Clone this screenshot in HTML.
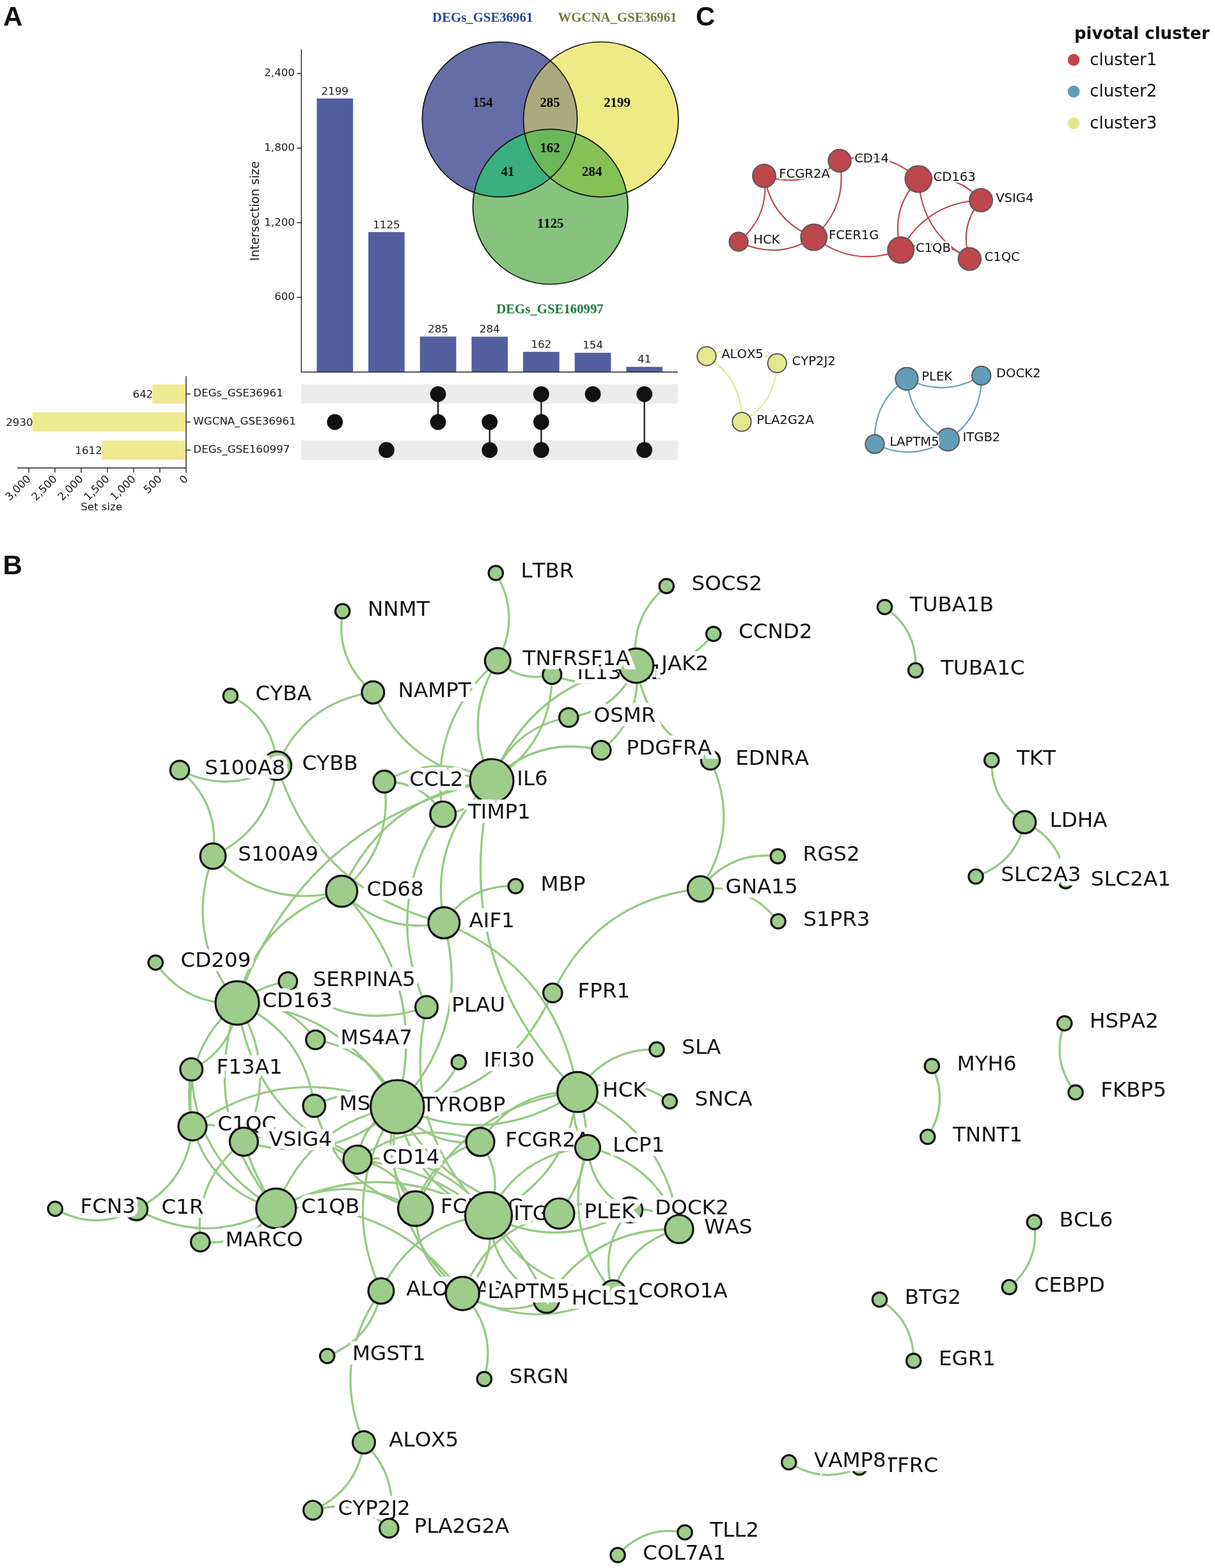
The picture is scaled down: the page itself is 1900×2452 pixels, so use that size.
<!DOCTYPE html>
<html lang="en"><head><meta charset="utf-8"><title>Figure: UpSet, Venn, PPI network and pivotal clusters</title>
<style>html,body{margin:0;padding:0;background:#fff}body{width:1900px;height:2452px;overflow:hidden}svg{display:block}text{font-kerning:none}.dj{font-family:"DejaVu Sans","Liberation Sans",sans-serif}.pl{font-family:"Liberation Sans","DejaVu Sans",sans-serif;font-weight:700;font-size:42px;fill:#111}.vn{font-family:"Liberation Serif","DejaVu Serif",serif;font-weight:700;font-size:20.8px}.t{font-size:16.7px;fill:#1a1a1a}.bl{font-size:32.5px;fill:#111;stroke:#fff;stroke-width:13px;stroke-linejoin:miter;stroke-miterlimit:3;paint-order:stroke fill}.cl{font-size:19.6px;fill:#111;stroke:#fff;stroke-width:5px;stroke-linejoin:miter;stroke-miterlimit:3;paint-order:stroke fill}.be{fill:none;stroke:#97ca85;stroke-width:3.3px}.bn{fill:#9dcc8b;stroke:#111;stroke-width:3.2px}.ce{fill:none;stroke-width:2.1px}.cn{stroke:#5a5a5a;stroke-width:2px}</style></head><body>
<svg width="1900" height="2452" viewBox="0 0 1900 2452" class="dj">
<rect width="1900" height="2452" fill="#fff"/>
<text class="pl" x="5" y="39.8">A</text>
<text class="pl" x="4.5" y="897.5">B</text>
<text class="pl" x="1088" y="39.8">C</text>
<g id="upset">
<rect x="471.3" y="601" width="588.7" height="30.3" fill="#ebeceb"/>
<rect x="471.3" y="688.7" width="588.7" height="30.3" fill="#ebeceb"/>
<rect x="495.4" y="154" width="56.7" height="427.7" fill="#525f9e"/>
<text class="t" x="523.7" y="147.7" text-anchor="middle">2199</text>
<rect x="576" y="362.9" width="56.7" height="218.8" fill="#525f9e"/>
<text class="t" x="604.4" y="356.6" text-anchor="middle">1125</text>
<rect x="656.7" y="526.3" width="56.7" height="55.4" fill="#525f9e"/>
<text class="t" x="685" y="520" text-anchor="middle">285</text>
<rect x="737.4" y="526.5" width="56.7" height="55.2" fill="#525f9e"/>
<text class="t" x="765.7" y="520.2" text-anchor="middle">284</text>
<rect x="818" y="550.2" width="56.7" height="31.5" fill="#525f9e"/>
<text class="t" x="846.4" y="543.9" text-anchor="middle">162</text>
<rect x="898.7" y="551.7" width="56.7" height="30" fill="#525f9e"/>
<text class="t" x="927.1" y="545.4" text-anchor="middle">154</text>
<rect x="979.4" y="573.7" width="56.7" height="8" fill="#525f9e"/>
<text class="t" x="1007.7" y="567.4" text-anchor="middle">41</text>
<path d="M471.3 77.3V581.7H1060" fill="none" stroke="#222" stroke-width="1.4"/>
<path d="M464.3 465H471.3" stroke="#222" stroke-width="1.4"/>
<text class="t" x="461" y="469.2" text-anchor="end">600</text>
<path d="M464.3 348.3H471.3" stroke="#222" stroke-width="1.4"/>
<text class="t" x="461" y="352.5" text-anchor="end">1,200</text>
<path d="M464.3 231.6H471.3" stroke="#222" stroke-width="1.4"/>
<text class="t" x="461" y="235.8" text-anchor="end">1,800</text>
<path d="M464.3 114.9H471.3" stroke="#222" stroke-width="1.4"/>
<text class="t" x="461" y="119.1" text-anchor="end">2,400</text>
<text x="405" y="330" font-size="19px" fill="#1a1a1a" text-anchor="middle" transform="rotate(-90 405 330)">Intersection size</text>
<circle cx="523.7" cy="660" r="12.4" fill="#111"/>
<circle cx="604.4" cy="703.7" r="12.4" fill="#111"/>
<path d="M685 616.3V660" stroke="#111" stroke-width="2.2"/>
<circle cx="685" cy="616.3" r="12.4" fill="#111"/>
<circle cx="685" cy="660" r="12.4" fill="#111"/>
<path d="M765.7 660V703.7" stroke="#111" stroke-width="2.2"/>
<circle cx="765.7" cy="660" r="12.4" fill="#111"/>
<circle cx="765.7" cy="703.7" r="12.4" fill="#111"/>
<path d="M846.4 616.3V703.7" stroke="#111" stroke-width="2.2"/>
<circle cx="846.4" cy="616.3" r="12.4" fill="#111"/>
<circle cx="846.4" cy="660" r="12.4" fill="#111"/>
<circle cx="846.4" cy="703.7" r="12.4" fill="#111"/>
<circle cx="927.1" cy="616.3" r="12.4" fill="#111"/>
<path d="M1007.7 616.3V703.7" stroke="#111" stroke-width="2.2"/>
<circle cx="1007.7" cy="616.3" r="12.4" fill="#111"/>
<circle cx="1007.7" cy="703.7" r="12.4" fill="#111"/>
<rect x="238.4" y="601" width="52.6" height="30.3" fill="#efeb92"/>
<text class="t" x="239.4" y="622.4" text-anchor="end">642</text>
<path d="M291 616.1H298" stroke="#222" stroke-width="1.4"/>
<text class="t" x="302.3" y="620.4">DEGs_GSE36961</text>
<rect x="50.7" y="644.7" width="240.3" height="30.3" fill="#efeb92"/>
<text class="t" x="51.7" y="666.1" text-anchor="end">2930</text>
<path d="M291 659.9H298" stroke="#222" stroke-width="1.4"/>
<text class="t" x="302.3" y="664.1">WGCNA_GSE36961</text>
<rect x="158.8" y="688.7" width="132.2" height="30.3" fill="#efeb92"/>
<text class="t" x="159.8" y="710.1" text-anchor="end">1612</text>
<path d="M291 703.9H298" stroke="#222" stroke-width="1.4"/>
<text class="t" x="302.3" y="708.1">DEGs_GSE160997</text>
<path d="M291 588.3V731.7H27.3" fill="none" stroke="#222" stroke-width="1.4"/>
<path d="M291 731.7V739" stroke="#222" stroke-width="1.4"/>
<text class="t" x="295" y="750" text-anchor="end" transform="rotate(-45 295 750)">0</text>
<path d="M250 731.7V739" stroke="#222" stroke-width="1.4"/>
<text class="t" x="254" y="750" text-anchor="end" transform="rotate(-45 254 750)">500</text>
<path d="M209 731.7V739" stroke="#222" stroke-width="1.4"/>
<text class="t" x="213" y="750" text-anchor="end" transform="rotate(-45 213 750)">1,000</text>
<path d="M168 731.7V739" stroke="#222" stroke-width="1.4"/>
<text class="t" x="172" y="750" text-anchor="end" transform="rotate(-45 172 750)">1,500</text>
<path d="M127 731.7V739" stroke="#222" stroke-width="1.4"/>
<text class="t" x="131" y="750" text-anchor="end" transform="rotate(-45 131 750)">2,000</text>
<path d="M86 731.7V739" stroke="#222" stroke-width="1.4"/>
<text class="t" x="90" y="750" text-anchor="end" transform="rotate(-45 90 750)">2,500</text>
<path d="M45 731.7V739" stroke="#222" stroke-width="1.4"/>
<text class="t" x="49" y="750" text-anchor="end" transform="rotate(-45 49 750)">3,000</text>
<text class="t" x="158.7" y="797.5" text-anchor="middle">Set size</text>
</g>
<g id="venn">
<defs><clipPath id="cb"><circle cx="781.5" cy="186.7" r="121.2"/></clipPath><clipPath id="cy"><circle cx="939.7" cy="186.7" r="121.2"/></clipPath></defs>
<circle cx="781.5" cy="186.7" r="121.2" fill="#656da6" />
<circle cx="939.7" cy="186.7" r="121.2" fill="#eeeb86" />
<circle cx="860.7" cy="323.3" r="121.2" fill="#86c47e" />
<circle cx="939.7" cy="186.7" r="121.2" fill="#a9ab7d" clip-path="url(#cb)"/>
<circle cx="860.7" cy="323.3" r="121.2" fill="#3bae7d" clip-path="url(#cb)"/>
<circle cx="860.7" cy="323.3" r="121.2" fill="#85c155" clip-path="url(#cy)"/>
<g clip-path="url(#cb)"><circle cx="860.7" cy="323.3" r="121.2" fill="#6bb85c" clip-path="url(#cy)"/></g>
<circle cx="781.5" cy="186.7" r="121.2" fill="none" stroke="#111" stroke-width="1.7"/>
<circle cx="939.7" cy="186.7" r="121.2" fill="none" stroke="#111" stroke-width="1.7"/>
<circle cx="860.7" cy="323.3" r="121.2" fill="none" stroke="#111" stroke-width="1.7"/>
<text class="vn" x="755" y="167" text-anchor="middle" fill="#000">154</text>
<text class="vn" x="860" y="167" text-anchor="middle" fill="#000">285</text>
<text class="vn" x="965" y="167" text-anchor="middle" fill="#000">2199</text>
<text class="vn" x="860" y="237.5" text-anchor="middle" fill="#000">162</text>
<text class="vn" x="794" y="274.5" text-anchor="middle" fill="#000">41</text>
<text class="vn" x="925.7" y="274.5" text-anchor="middle" fill="#000">284</text>
<text class="vn" x="860.7" y="356" text-anchor="middle" fill="#000">1125</text>
<text class="vn" x="754.7" y="34.3" text-anchor="middle" fill="#1f4690">DEGs_GSE36961</text>
<text class="vn" x="965.5" y="34.3" text-anchor="middle" fill="#75763a">WGCNA_GSE36961</text>
<text class="vn" x="860" y="489.7" text-anchor="middle" fill="#1f7a3c">DEGs_GSE160997</text>
</g>
<g id="clusters">
<path class="ce" d="M1195 275Q1260.6 296.2 1313 251.4" stroke="#be464d"/>
<path class="ce" d="M1195 275Q1203.8 337.7 1155 378" stroke="#be464d"/>
<path class="ce" d="M1195 275Q1207 344.8 1272.7 371" stroke="#be464d"/>
<path class="ce" d="M1313 251.4Q1326.3 322.5 1272.7 371" stroke="#be464d"/>
<path class="ce" d="M1155 378Q1215.8 407.5 1272.7 371" stroke="#be464d"/>
<path class="ce" d="M1313 251.4Q1382.7 231.2 1436.3 280" stroke="#be464d"/>
<path class="ce" d="M1436.3 280Q1494.4 269.1 1534 313" stroke="#be464d"/>
<path class="ce" d="M1436.3 280Q1391.4 327.8 1408.7 391" stroke="#be464d"/>
<path class="ce" d="M1436.3 280Q1441.3 364.9 1516.3 405" stroke="#be464d"/>
<path class="ce" d="M1534 313Q1449.5 316.9 1408.7 391" stroke="#be464d"/>
<path class="ce" d="M1534 313Q1499.4 354 1516.3 405" stroke="#be464d"/>
<path class="ce" d="M1272.7 371Q1335.1 419.1 1408.7 391" stroke="#be464d"/>
<path class="ce" d="M1408.7 391Q1466.4 367.9 1516.3 405" stroke="#be464d"/>
<path class="ce" d="M1105 557Q1163.2 531.6 1215.3 568" stroke="#e3e88d"/>
<path class="ce" d="M1105 557Q1161.3 593 1160 659.7" stroke="#e3e88d"/>
<path class="ce" d="M1215.3 568Q1213.3 629.3 1160 659.7" stroke="#e3e88d"/>
<path class="ce" d="M1418 592.4Q1477.8 622.6 1534.7 587.4" stroke="#649db7"/>
<path class="ce" d="M1418 592.4Q1364.4 629.4 1368 694.4" stroke="#649db7"/>
<path class="ce" d="M1418 592.4Q1423.6 657.9 1482.3 687.4" stroke="#649db7"/>
<path class="ce" d="M1534.7 587.4Q1536.5 652.1 1482.3 687.4" stroke="#649db7"/>
<path class="ce" d="M1368 694.4Q1427.1 722.9 1482.3 687.4" stroke="#649db7"/>
<text class="cl" x="1218.2" y="277.9">FCGR2A</text>
<circle class="cn" cx="1195" cy="275" r="18" fill="#be464d"/>
<text class="cl" x="1336.2" y="254.3">CD14</text>
<circle class="cn" cx="1313" cy="251.4" r="17.7" fill="#be464d"/>
<text class="cl" x="1459.5" y="282.9">CD163</text>
<circle class="cn" cx="1436.3" cy="280" r="20.8" fill="#be464d"/>
<text class="cl" x="1557.2" y="315.9">VSIG4</text>
<circle class="cn" cx="1534" cy="313" r="18" fill="#be464d"/>
<text class="cl" x="1178.2" y="380.9">HCK</text>
<circle class="cn" cx="1155" cy="378" r="14.7" fill="#be464d"/>
<text class="cl" x="1295.9" y="373.9">FCER1G</text>
<circle class="cn" cx="1272.7" cy="371" r="20.5" fill="#be464d"/>
<text class="cl" x="1431.9" y="393.9">C1QB</text>
<circle class="cn" cx="1408.7" cy="391" r="20.5" fill="#be464d"/>
<text class="cl" x="1539.5" y="407.9">C1QC</text>
<circle class="cn" cx="1516.3" cy="405" r="17.7" fill="#be464d"/>
<text class="cl" x="1128.2" y="559.9">ALOX5</text>
<circle class="cn" cx="1105" cy="557" r="14.7" fill="#e3e88d"/>
<text class="cl" x="1238.5" y="570.9">CYP2J2</text>
<circle class="cn" cx="1215.3" cy="568" r="14.7" fill="#e3e88d"/>
<text class="cl" x="1183.2" y="662.6">PLA2G2A</text>
<circle class="cn" cx="1160" cy="659.7" r="14.7" fill="#e3e88d"/>
<text class="cl" x="1441.2" y="595.3">PLEK</text>
<circle class="cn" cx="1418" cy="592.4" r="17.7" fill="#649db7"/>
<text class="cl" x="1557.9" y="590.3">DOCK2</text>
<circle class="cn" cx="1534.7" cy="587.4" r="14.7" fill="#649db7"/>
<text class="cl" x="1505.5" y="690.3">ITGB2</text>
<circle class="cn" cx="1482.3" cy="687.4" r="17.7" fill="#649db7"/>
<text class="cl" x="1391.2" y="697.3">LAPTM5</text>
<circle class="cn" cx="1368" cy="694.4" r="14.7" fill="#649db7"/>
<text x="1680" y="61" font-size="26px" font-weight="700" fill="#111">pivotal cluster</text>
<circle cx="1679" cy="93.7" r="9.4" fill="#c0454c"/>
<text x="1704.3" y="101.9" font-size="26px" fill="#111">cluster1</text>
<circle cx="1679" cy="143.2" r="9.4" fill="#619cb6"/>
<text x="1704.3" y="151.4" font-size="26px" fill="#111">cluster2</text>
<circle cx="1679" cy="192.7" r="9.4" fill="#e3e88d"/>
<text x="1704.3" y="200.9" font-size="26px" fill="#111">cluster3</text>
</g>
<g id="ppi">
<g class="be">
<path d="M1383.5 949.3Q1435.3 985.3 1431.7 1048.2"/>
<path d="M1550.7 1188.7Q1549.3 1251.6 1602.3 1285.7"/>
<path d="M1602.3 1285.7Q1588 1349.6 1526 1370.7"/>
<path d="M1602.3 1285.7Q1660.2 1313.9 1666.5 1378"/>
<path d="M1664.7 1600.3Q1643.1 1659.1 1682 1708.3"/>
<path d="M1457.3 1667Q1485 1724.2 1450.7 1777.7"/>
<path d="M1617.3 1911Q1626.3 1972.8 1578.3 2012.7"/>
<path d="M1375.5 2032.3Q1428.9 2065.3 1428.7 2128"/>
<path d="M1233.7 2286.7Q1286.5 2321.7 1344 2295"/>
<path d="M1071 2396.3Q1008.6 2384.6 966 2431.7"/>
<path d="M535.7 955.7Q523.9 1032.5 583.3 1082.7"/>
<path d="M360.3 1088Q427.4 1122.2 433.3 1197.3"/>
<path d="M433.3 1197.3Q476.2 1098 583.3 1082.7"/>
<path d="M281 1204.3Q359.1 1243.4 433.3 1197.3"/>
<path d="M281 1204.3Q344.6 1256.9 333 1338.7"/>
<path d="M433.3 1197.3Q422.7 1296.1 333 1338.7"/>
<path d="M775.3 896Q815.2 963.8 778.3 1033.3"/>
<path d="M778.3 1033.3Q814.7 1068 863.3 1055"/>
<path d="M778.3 1033.3Q721.1 1124.5 769 1221"/>
<path d="M778.3 1033.3Q668.3 1129.3 692.7 1273.3"/>
<path d="M583.3 1082.7Q637.4 1203.8 769 1221"/>
<path d="M601 1222.3Q684.6 1174.6 769 1221"/>
<path d="M601 1222.3Q661.1 1222.1 692.7 1273.3"/>
<path d="M863.3 1055Q862.6 1164.4 769 1221"/>
<path d="M995 1041Q831.6 1067.7 769 1221"/>
<path d="M863.3 1055Q933.1 1084.9 995 1041"/>
<path d="M889.3 1122Q801.4 1137.8 769 1221"/>
<path d="M940.3 1173.3Q841.3 1149.2 769 1221"/>
<path d="M889.3 1122Q964.8 1111.1 995 1041"/>
<path d="M940.3 1173.3Q1004.7 1122.5 995 1041"/>
<path d="M995 1041Q983.8 965.5 1042.3 916.5"/>
<path d="M995 1041Q1069.3 1049.9 1115.7 991.3"/>
<path d="M995 1041Q1011.6 1147.3 1111 1188.7"/>
<path d="M1111 1188.7Q1159.5 1293.7 1095.3 1390"/>
<path d="M1095.3 1390Q1141.5 1330.6 1216.3 1339"/>
<path d="M1095.3 1390Q1170.3 1381.3 1217 1440.7"/>
<path d="M1095.3 1390Q934.2 1406.7 864.3 1552.7"/>
<path d="M433.3 1197.3Q495 1393.2 694.3 1443"/>
<path d="M534.3 1393.7Q600.5 1463.1 694.3 1443"/>
<path d="M601 1222.3Q615.6 1326.7 534.3 1393.7"/>
<path d="M769 1221Q603.3 1241.6 534.3 1393.7"/>
<path d="M769 1221Q472.8 1283.2 371 1568.3"/>
<path d="M333 1338.7Q418.2 1422.6 534.3 1393.7"/>
<path d="M333 1338.7Q287.7 1464.1 371 1568.3"/>
<path d="M534.3 1393.7Q403.8 1435.3 371 1568.3"/>
<path d="M534.3 1393.7Q672.2 1537.8 621.3 1730.7"/>
<path d="M692.7 1273.3Q595.4 1417 667 1575"/>
<path d="M769 1221Q745.5 1268.5 692.7 1273.3"/>
<path d="M769 1221Q669.5 1311.1 694.3 1443"/>
<path d="M769 1221Q699.7 1501.9 903 1707.7"/>
<path d="M694.3 1443Q872.8 1516.9 903 1707.7"/>
<path d="M694.3 1443Q734.3 1383 806.3 1385.7"/>
<path d="M694.3 1443Q738.4 1607.3 621.3 1730.7"/>
<path d="M864.3 1552.7Q792.6 1709.7 621.3 1730.7"/>
<path d="M243.3 1505.3Q289.5 1572.6 371 1568.3"/>
<path d="M371 1568.3Q406.6 1542 450.3 1534.7"/>
<path d="M450.3 1534.7Q547.4 1615.5 667 1575"/>
<path d="M371 1568.3Q448.3 1562.9 493.3 1626"/>
<path d="M371 1568.3Q541.6 1579.4 621.3 1730.7"/>
<path d="M493.3 1626Q586.6 1642.5 621.3 1730.7"/>
<path d="M371 1568.3Q476.2 1615.1 491.3 1729.3"/>
<path d="M371 1568.3Q364.3 1640.4 299.3 1672.3"/>
<path d="M371 1568.3Q282 1645.2 301 1761.3"/>
<path d="M371 1568.3Q311.4 1746 431.7 1889.7"/>
<path d="M371 1568.3Q436.9 1673.9 381.3 1785.3"/>
<path d="M371 1568.3Q396.4 1743.4 559 1813.3"/>
<path d="M301 1761.3Q452.6 1656.3 621.3 1730.7"/>
<path d="M299.3 1672.3Q291.2 1717 301 1761.3"/>
<path d="M299.3 1672.3Q304.6 1818.1 431.7 1889.7"/>
<path d="M301 1761.3Q330.4 1862.1 431.7 1889.7"/>
<path d="M301 1761.3Q347.9 1750.8 381.3 1785.3"/>
<path d="M301 1761.3Q293.4 1850.6 213.3 1890.7"/>
<path d="M213.3 1890.7Q149.7 1926.1 86.3 1890.3"/>
<path d="M213.3 1890.7Q322.8 1951.4 431.7 1889.7"/>
<path d="M381.3 1785.3Q303.3 1844.8 313.3 1942.3"/>
<path d="M381.3 1785.3Q398.1 1841.5 431.7 1889.7"/>
<path d="M313.3 1942.3Q387.2 1949.2 431.7 1889.7"/>
<path d="M491.3 1729.3Q556.7 1693.6 621.3 1730.7"/>
<path d="M667 1575Q624.3 1765 764 1900.7"/>
<path d="M717.3 1661Q688.8 1722.7 621.3 1730.7"/>
<path d="M621.3 1730.7Q768.6 1798.1 903 1707.7"/>
<path d="M751 1785.7Q805.2 1704.1 903 1707.7"/>
<path d="M621.3 1730.7Q670.8 1794.5 751 1785.7"/>
<path d="M431.7 1889.7Q482 1757.1 621.3 1730.7"/>
<path d="M431.7 1889.7Q600.9 1802.2 764 1900.7"/>
<path d="M431.7 1889.7Q540.8 1828.8 649.7 1890"/>
<path d="M431.7 1889.7Q614.7 1874.6 723.3 2022.7"/>
<path d="M596 2018.7Q582.4 2093.2 511.7 2120.5"/>
<path d="M596 2018.7Q516.2 2129.5 569 2255.5"/>
<path d="M621.3 1730.7Q528 1867.6 596 2018.7"/>
<path d="M596 2018.7Q647 1912.7 764 1900.7"/>
<path d="M649.7 1890Q649.3 1977 723.3 2022.7"/>
<path d="M723.3 2022.7Q777.8 2080.1 757.3 2156.5"/>
<path d="M723.3 2022.7Q841.3 2088.3 959 2022"/>
<path d="M723.3 2022.7Q786 2064.6 854.5 2033"/>
<path d="M569 2255.5Q558.9 2330.9 489.3 2361.7"/>
<path d="M569 2255.5Q626.2 2311.6 608.3 2389.7"/>
<path d="M489.3 2361.7Q556.6 2342.4 608.3 2389.7"/>
<path d="M903 1707.7Q946.3 1639.6 1027 1641"/>
<path d="M903 1707.7Q979.2 1674.6 1047.3 1722.3"/>
<path d="M621.3 1730.7Q590.9 1818.3 649.7 1890"/>
<path d="M621.3 1730.7Q590.5 1905.3 723.3 2022.7"/>
<path d="M621.3 1730.7Q567 1754.6 559 1813.3"/>
<path d="M381.3 1785.3Q516.6 1825.2 621.3 1730.7"/>
<path d="M621.3 1730.7Q645 1855.7 764 1900.7"/>
<path d="M559 1813.3Q647.3 1745.7 751 1785.7"/>
<path d="M491.3 1729.3Q525.5 1854 649.7 1890"/>
<path d="M559 1813.3Q625.8 1826.3 649.7 1890"/>
<path d="M649.7 1890Q671.1 1809.5 751 1785.7"/>
<path d="M751 1785.7Q789.7 1839.6 764 1900.7"/>
<path d="M903 1707.7Q887.5 1843.1 764 1900.7"/>
<path d="M919 1794.3Q811.7 1804.1 764 1900.7"/>
<path d="M903 1707.7Q886.8 1755.5 919 1794.3"/>
<path d="M903 1707.7Q941.9 1810.7 874.3 1897.7"/>
<path d="M903 1707.7Q1042.5 1770.3 1062 1922"/>
<path d="M919 1794.3Q1026.3 1818.1 1062 1922"/>
<path d="M919 1794.3Q924.6 1861.6 985 1892"/>
<path d="M919 1794.3Q875.2 1919.4 959 2022"/>
<path d="M874.3 1897.7Q928.1 1863.9 985 1892"/>
<path d="M985 1892Q1031.9 1885.4 1062 1922"/>
<path d="M764 1900.7Q876.9 1958.2 985 1892"/>
<path d="M1062 1922Q927.2 1919.4 854.5 2033"/>
<path d="M1062 1922Q982.5 1943.2 959 2022"/>
<path d="M985 1892Q935.6 1949.7 959 2022"/>
<path d="M723.3 2022.7Q763.8 1917.9 874.3 1897.7"/>
<path d="M764 1900.7Q777.8 1973.1 723.3 2022.7"/>
<path d="M764 1900.7Q772.2 1992.2 854.5 2033"/>
<path d="M764 1900.7Q827.5 2015.9 959 2022"/>
<path d="M764 1900.7Q818.3 1868.3 874.3 1897.7"/>
<path d="M621.3 1730.7Q701 1885 874.3 1897.7"/>
<path d="M559 1813.3Q686 1799.6 764 1900.7"/>
<path d="M649.7 1890Q725.3 1727.9 903 1707.7"/>
<path d="M381.3 1785.3Q478 1749.5 559 1813.3"/>
<path d="M559 1813.3Q768.3 1840.4 854.5 2033"/>
</g>
<text class="bl" x="575" y="962.6">NNMT</text>
<circle class="bn" cx="535.7" cy="955.7" r="11.2"/>
<text class="bl" x="814.6" y="902.9">LTBR</text>
<circle class="bn" cx="775.3" cy="896" r="11.2"/>
<text class="bl" x="1081.6" y="923.4">SOCS2</text>
<circle class="bn" cx="1042.3" cy="916.5" r="11.2"/>
<text class="bl" x="1155" y="998.2">CCND2</text>
<circle class="bn" cx="1115.7" cy="991.3" r="11.2"/>
<text class="bl" x="1422.8" y="956.2">TUBA1B</text>
<circle class="bn" cx="1383.5" cy="949.3" r="11.2"/>
<text class="bl" x="1471" y="1055.1">TUBA1C</text>
<circle class="bn" cx="1431.7" cy="1048.2" r="11.2"/>
<text class="bl" x="902.6" y="1061.9">IL13RA1</text>
<circle class="bn" cx="863.3" cy="1055" r="14.5"/>
<text class="bl" x="1034.3" y="1047.9">JAK2</text>
<circle class="bn" cx="995" cy="1041" r="26.8"/>
<text class="bl" x="817.6" y="1040.2">TNFRSF1A</text>
<circle class="bn" cx="778.3" cy="1033.3" r="19.9"/>
<text class="bl" x="622.6" y="1089.6">NAMPT</text>
<circle class="bn" cx="583.3" cy="1082.7" r="17.4"/>
<text class="bl" x="399.6" y="1094.9">CYBA</text>
<circle class="bn" cx="360.3" cy="1088" r="11.2"/>
<text class="bl" x="928.6" y="1128.9">OSMR</text>
<circle class="bn" cx="889.3" cy="1122" r="14.7"/>
<text class="bl" x="1150.3" y="1195.6">EDNRA</text>
<circle class="bn" cx="1111" cy="1188.7" r="14.7"/>
<text class="bl" x="979.6" y="1180.2">PDGFRA</text>
<circle class="bn" cx="940.3" cy="1173.3" r="14.7"/>
<text class="bl" x="1590" y="1195.6">TKT</text>
<circle class="bn" cx="1550.7" cy="1188.7" r="11.2"/>
<text class="bl" x="472.6" y="1204.2">CYBB</text>
<circle class="bn" cx="433.3" cy="1197.3" r="22.3"/>
<text class="bl" x="320.3" y="1211.2">S100A8</text>
<circle class="bn" cx="281" cy="1204.3" r="14.7"/>
<text class="bl" x="640.3" y="1229.2">CCL2</text>
<circle class="bn" cx="601" cy="1222.3" r="17.1"/>
<text class="bl" x="808.3" y="1227.9">IL6</text>
<circle class="bn" cx="769" cy="1221" r="34"/>
<text class="bl" x="732" y="1280.2">TIMP1</text>
<circle class="bn" cx="692.7" cy="1273.3" r="19.9"/>
<text class="bl" x="1641.6" y="1292.6">LDHA</text>
<circle class="bn" cx="1602.3" cy="1285.7" r="17.4"/>
<text class="bl" x="372.3" y="1345.6">S100A9</text>
<circle class="bn" cx="333" cy="1338.7" r="19.9"/>
<text class="bl" x="1255.6" y="1345.9">RGS2</text>
<circle class="bn" cx="1216.3" cy="1339" r="11.2"/>
<text class="bl" x="1705.8" y="1384.9">SLC2A1</text>
<circle class="bn" cx="1666.5" cy="1378" r="11.2"/>
<text class="bl" x="1565.3" y="1377.6">SLC2A3</text>
<circle class="bn" cx="1526" cy="1370.7" r="11.2"/>
<text class="bl" x="573.6" y="1400.6">CD68</text>
<circle class="bn" cx="534.3" cy="1393.7" r="24.4"/>
<text class="bl" x="845.6" y="1392.6">MBP</text>
<circle class="bn" cx="806.3" cy="1385.7" r="11.2"/>
<text class="bl" x="1134.6" y="1396.9">GNA15</text>
<circle class="bn" cx="1095.3" cy="1390" r="19.9"/>
<text class="bl" x="733.6" y="1449.9">AIF1</text>
<circle class="bn" cx="694.3" cy="1443" r="24.4"/>
<text class="bl" x="1256.3" y="1447.6">S1PR3</text>
<circle class="bn" cx="1217" cy="1440.7" r="11.2"/>
<text class="bl" x="282.6" y="1512.2">CD209</text>
<circle class="bn" cx="243.3" cy="1505.3" r="11.2"/>
<text class="bl" x="489.6" y="1541.6">SERPINA5</text>
<circle class="bn" cx="450.3" cy="1534.7" r="14.3"/>
<text class="bl" x="410.3" y="1575.2">CD163</text>
<circle class="bn" cx="371" cy="1568.3" r="34"/>
<text class="bl" x="706.3" y="1581.9">PLAU</text>
<circle class="bn" cx="667" cy="1575" r="17.4"/>
<text class="bl" x="903.6" y="1559.6">FPR1</text>
<circle class="bn" cx="864.3" cy="1552.7" r="14.7"/>
<text class="bl" x="1704" y="1607.2">HSPA2</text>
<circle class="bn" cx="1664.7" cy="1600.3" r="11.2"/>
<text class="bl" x="532.6" y="1632.9">MS4A7</text>
<circle class="bn" cx="493.3" cy="1626" r="14.7"/>
<text class="bl" x="756.6" y="1667.9">IFI30</text>
<circle class="bn" cx="717.3" cy="1661" r="11.2"/>
<text class="bl" x="1066.3" y="1647.9">SLA</text>
<circle class="bn" cx="1027" cy="1641" r="11.2"/>
<text class="bl" x="1496.6" y="1673.9">MYH6</text>
<circle class="bn" cx="1457.3" cy="1667" r="11.2"/>
<text class="bl" x="338.6" y="1679.2">F13A1</text>
<circle class="bn" cx="299.3" cy="1672.3" r="17.4"/>
<text class="bl" x="1721.3" y="1715.2">FKBP5</text>
<circle class="bn" cx="1682" cy="1708.3" r="11.2"/>
<text class="bl" x="530.6" y="1736.2">MS4A6A</text>
<circle class="bn" cx="491.3" cy="1729.3" r="17.4"/>
<text class="bl" x="660.6" y="1737.6">TYROBP</text>
<circle class="bn" cx="621.3" cy="1730.7" r="41.7"/>
<text class="bl" x="942.3" y="1714.6">HCK</text>
<circle class="bn" cx="903" cy="1707.7" r="31.3"/>
<text class="bl" x="1086.6" y="1729.2">SNCA</text>
<circle class="bn" cx="1047.3" cy="1722.3" r="11.2"/>
<text class="bl" x="340.3" y="1768.2">C1QC</text>
<circle class="bn" cx="301" cy="1761.3" r="22"/>
<text class="bl" x="420.6" y="1792.2">VSIG4</text>
<circle class="bn" cx="381.3" cy="1785.3" r="22"/>
<text class="bl" x="790.3" y="1792.6">FCGR2A</text>
<circle class="bn" cx="751" cy="1785.7" r="22"/>
<text class="bl" x="958.3" y="1801.2">LCP1</text>
<circle class="bn" cx="919" cy="1794.3" r="19.5"/>
<text class="bl" x="1490" y="1784.6">TNNT1</text>
<circle class="bn" cx="1450.7" cy="1777.7" r="11.2"/>
<text class="bl" x="598.3" y="1820.2">CD14</text>
<circle class="bn" cx="559" cy="1813.3" r="22"/>
<text class="bl" x="252.6" y="1897.6">C1R</text>
<circle class="bn" cx="213.3" cy="1890.7" r="17.4"/>
<text class="bl" x="125.6" y="1897.2">FCN3</text>
<circle class="bn" cx="86.3" cy="1890.3" r="11.2"/>
<text class="bl" x="471" y="1896.6">C1QB</text>
<circle class="bn" cx="431.7" cy="1889.7" r="31.1"/>
<text class="bl" x="689" y="1896.9">FCER1G</text>
<circle class="bn" cx="649.7" cy="1890" r="27.2"/>
<text class="bl" x="803.3" y="1907.6">ITGB2</text>
<circle class="bn" cx="764" cy="1900.7" r="36.5"/>
<text class="bl" x="1024.3" y="1898.9">DOCK2</text>
<circle class="bn" cx="985" cy="1892" r="19.7"/>
<text class="bl" x="913.6" y="1904.6">PLEK</text>
<circle class="bn" cx="874.3" cy="1897.7" r="23.7"/>
<text class="bl" x="1101.3" y="1928.9">WAS</text>
<circle class="bn" cx="1062" cy="1922" r="22"/>
<text class="bl" x="1656.6" y="1917.9">BCL6</text>
<circle class="bn" cx="1617.3" cy="1911" r="11.2"/>
<text class="bl" x="352.6" y="1949.2">MARCO</text>
<circle class="bn" cx="313.3" cy="1942.3" r="14.7"/>
<text class="bl" x="635.3" y="2025.6">ALOX5AP</text>
<circle class="bn" cx="596" cy="2018.7" r="19.9"/>
<text class="bl" x="998.3" y="2028.9">CORO1A</text>
<circle class="bn" cx="959" cy="2022" r="19.9"/>
<text class="bl" x="893.8" y="2039.9">HCLS1</text>
<circle class="bn" cx="854.5" cy="2033" r="19.9"/>
<text class="bl" x="762.6" y="2029.6">LAPTM5</text>
<circle class="bn" cx="723.3" cy="2022.7" r="26.1"/>
<text class="bl" x="1617.6" y="2019.6">CEBPD</text>
<circle class="bn" cx="1578.3" cy="2012.7" r="11.2"/>
<text class="bl" x="1414.8" y="2039.2">BTG2</text>
<circle class="bn" cx="1375.5" cy="2032.3" r="11.2"/>
<text class="bl" x="551" y="2127.4">MGST1</text>
<circle class="bn" cx="511.7" cy="2120.5" r="11.2"/>
<text class="bl" x="796.6" y="2163.4">SRGN</text>
<circle class="bn" cx="757.3" cy="2156.5" r="11.2"/>
<text class="bl" x="1468" y="2134.9">EGR1</text>
<circle class="bn" cx="1428.7" cy="2128" r="11.2"/>
<text class="bl" x="608.3" y="2262.4">ALOX5</text>
<circle class="bn" cx="569" cy="2255.5" r="17.4"/>
<text class="bl" x="1383.3" y="2301.9">TFRC</text>
<circle class="bn" cx="1344" cy="2295" r="11.2"/>
<text class="bl" x="1273" y="2293.6">VAMP8</text>
<circle class="bn" cx="1233.7" cy="2286.7" r="11.2"/>
<text class="bl" x="528.6" y="2368.6">CYP2J2</text>
<circle class="bn" cx="489.3" cy="2361.7" r="14.7"/>
<text class="bl" x="647.6" y="2396.6">PLA2G2A</text>
<circle class="bn" cx="608.3" cy="2389.7" r="14.7"/>
<text class="bl" x="1110.3" y="2403.2">TLL2</text>
<circle class="bn" cx="1071" cy="2396.3" r="11.2"/>
<text class="bl" x="1005.3" y="2438.6">COL7A1</text>
<circle class="bn" cx="966" cy="2431.7" r="11.2"/>
</g>
</svg></body></html>
